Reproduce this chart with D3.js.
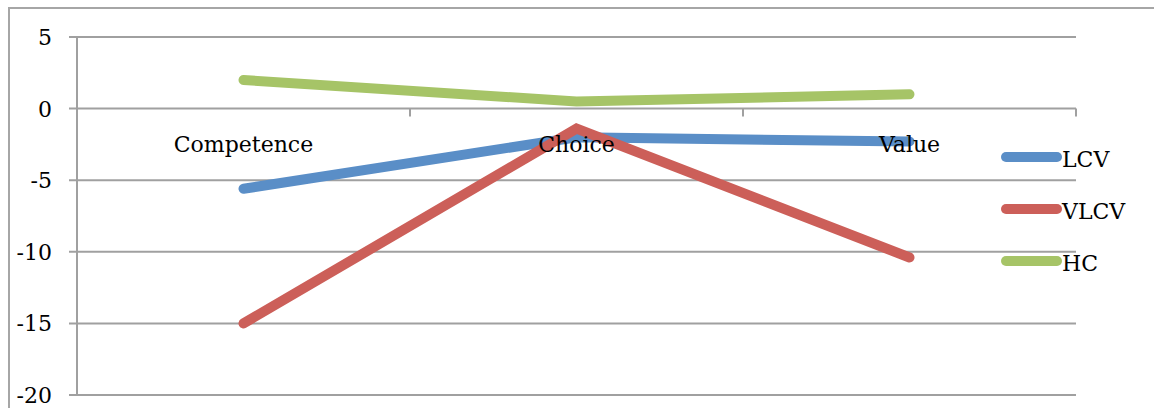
<!DOCTYPE html>
<html lang="en">
<head>
    <meta charset="utf-8">
    <style>
        body { margin: 0; background: #fff; }
        text { font-family: "DejaVu Serif", "Liberation Serif", serif; font-size: 22px; fill: #000; }
    </style>
</head>
<body>
    <script src="https://d3js.org/d3.v7.min.js"></script>
    <div id="chart"></div>
    <script>
        // data
        var categories = ["Competence", "Choice", "Value"];
        var seriesNames = ["LCV", "VLCV", "HC"];
        var lcv = [-5.6, -2.0, -2.3];
        var vlcv = [-15.0, -1.4, -10.4];
        var hc = [2.0, 0.5, 1.0];
        var yTicks = [5, 0, -5, -10, -15, -20];
        var colors = ["#5a8ec7", "#cc5f59", "#a6c467"];

        var series = [lcv, vlcv, hc];

        var W = 1154, H = 408;
        var svg = d3.select("#chart").append("svg")
            .attr("width", W)
            .attr("height", H);

        // outer frame of the chart
        svg.append("rect")
            .attr("x", 9).attr("y", 8)
            .attr("width", W + 10).attr("height", H + 10)
            .style("fill", "none").style("stroke", "#a6a6a6").style("stroke-width", 2);

        var x = d3.scaleBand().domain(categories).range([77, 1076]);
        var y = d3.scaleLinear().domain([-20, 5]).range([395, 37]);

        // horizontal gridlines + little ticks left of the axis
        svg.append("g")
            .selectAll("line")
            .data(yTicks)
            .enter()
            .append("line")
            .attr("x1", 69).attr("x2", 1076)
            .attr("y1", function (d) { return y(d) })
            .attr("y2", function (d) { return y(d) })
            .style("stroke", "#a0a0a0").style("stroke-width", 2);

        // y axis line
        svg.append("line")
            .attr("x1", 77).attr("x2", 77)
            .attr("y1", y(5)).attr("y2", y(-20))
            .style("stroke", "#a0a0a0").style("stroke-width", 2);

        // y tick labels
        svg.append("g")
            .selectAll("text")
            .data(yTicks)
            .enter()
            .append("text")
            .attr("x", 52)
            .attr("y", function (d) { return y(d) + 8 })
            .attr("text-anchor", "end")
            .text(function (d) { return d });

        // category axis sits on zero, ticks between bands
        var bounds = [77].concat(categories.map(function (c) { return x(c) + x.bandwidth() }));
        svg.append("g")
            .selectAll("line")
            .data(bounds)
            .enter()
            .append("line")
            .attr("x1", function (d) { return d }).attr("x2", function (d) { return d })
            .attr("y1", y(0)).attr("y2", y(0) + 8)
            .style("stroke", "#a0a0a0").style("stroke-width", 2);

        // the series lines
        var line = d3.line()
            .x(function (d, i) { return x(categories[i]) + x.bandwidth() / 2 })
            .y(function (d) { return y(d) });

        svg.append("g")
            .selectAll("path")
            .data(series)
            .enter()
            .append("path")
            .attr("d", line)
            .style("fill", "none")
            .style("stroke", function (d, i) { return colors[i] })
            .style("stroke-width", 10)
            .style("stroke-linecap", "round")
            .style("stroke-linejoin", "miter");

        // category labels
        svg.append("g")
            .selectAll("text")
            .data(categories)
            .enter()
            .append("text")
            .attr("x", function (d) { return x(d) + x.bandwidth() / 2 })
            .attr("y", y(0) + 43)
            .attr("text-anchor", "middle")
            .text(function (d) { return d });

        // legend
        var legend = svg.append("g")
            .selectAll("g")
            .data(seriesNames)
            .enter()
            .append("g")
            .attr("transform", function (d, i) { return "translate(0," + (157 + i * 52) + ")" });

        legend.append("line")
            .attr("x1", 1006).attr("x2", 1057)
            .style("stroke", function (d, i) { return colors[i] })
            .style("stroke-width", 10)
            .style("stroke-linecap", "round");

        legend.append("text")
            .attr("x", 1062).attr("y", 10)
            .text(function (d) { return d });
    </script>
</body>
</html>
